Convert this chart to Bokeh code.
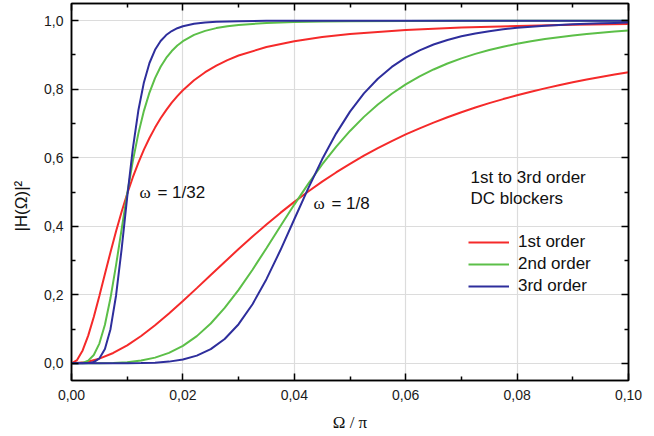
import numpy as np
from bokeh.plotting import figure
from bokeh.models import (Range1d, FixedTicker, LinearAxis, Legend, LegendItem, Label,
                          CustomLabelingPolicy)
from bokeh.embed import file_html
from bokeh.resources import INLINE

# ---------------- data ----------------
# omega = 1/32 curves
x_32 = [0, 0.001, 0.002, 0.003, 0.004, 0.005, 0.006, 0.007, 0.008, 0.009, 0.010,
        0.011, 0.012, 0.013, 0.014, 0.015, 0.016, 0.017, 0.018, 0.019, 0.020,
        0.022, 0.024, 0.026, 0.028, 0.030, 0.035, 0.040, 0.045, 0.050,
        0.060, 0.070, 0.080, 0.090, 0.100]
first_32 = [0, 0.0097, 0.0377, 0.0810, 0.1355, 0.1967, 0.2607, 0.3243, 0.3853, 0.4424, 0.4948,
            0.5424, 0.5852, 0.6235, 0.6575, 0.6879, 0.7150, 0.7390, 0.7605, 0.7796, 0.7967,
            0.8259, 0.8495, 0.8689, 0.8849, 0.8982, 0.9232, 0.9401, 0.9521, 0.9609,
            0.9726, 0.9797, 0.9845, 0.9877, 0.9900]
second_32 = [0, 0.0001, 0.0016, 0.0079, 0.0245, 0.0577, 0.1127, 0.1905, 0.2865, 0.3914, 0.4950,
             0.5894, 0.6703, 0.7368, 0.7902, 0.8323, 0.8653, 0.8912, 0.9114, 0.9274, 0.9401,
             0.9583, 0.9702, 0.9782, 0.9837, 0.9876, 0.9932, 0.9960, 0.9975, 0.9984,
             0.9992, 0.9996, 0.9998, 0.9998, 0.9999]
third_32 = [0, 0.0000, 0.0001, 0.0007, 0.0038, 0.0145, 0.0421, 0.0998, 0.1981, 0.3336, 0.4851,
            0.6251, 0.7377, 0.8197, 0.8764, 0.9148, 0.9405, 0.9579, 0.9697, 0.9779, 0.9837,
            0.9907, 0.9945, 0.9966, 0.9978, 0.9985, 0.9994, 0.9997, 0.9999, 0.9999,
            1.0, 1.0, 1.0, 1.0, 1.0]

# omega = 1/8 curves
x_8 = [0, 0.0025, 0.005, 0.0075, 0.010, 0.0125, 0.015, 0.0175, 0.020, 0.0225, 0.025,
       0.0275, 0.030, 0.0325, 0.035, 0.0375, 0.040, 0.0425, 0.045, 0.0475, 0.050,
       0.0525, 0.055, 0.0575, 0.060, 0.0625, 0.065, 0.0675, 0.070, 0.0725, 0.075,
       0.0775, 0.080, 0.0825, 0.085, 0.0875, 0.090, 0.0925, 0.095, 0.0975, 0.100]
first_8 = [0, 0.0035, 0.0137, 0.0303, 0.0526, 0.0798, 0.1111, 0.1454, 0.1818, 0.2195, 0.2578,
           0.2960, 0.3335, 0.3701, 0.4053, 0.4390, 0.4711, 0.5015, 0.5301, 0.5570, 0.5822,
           0.6059, 0.6280, 0.6486, 0.6679, 0.6858, 0.7026, 0.7182, 0.7328, 0.7464, 0.7592,
           0.7711, 0.7822, 0.7926, 0.8024, 0.8115, 0.8201, 0.8281, 0.8357, 0.8428, 0.8495]
second_8 = [0, 0.0000, 0.0002, 0.0011, 0.0034, 0.0082, 0.0168, 0.0307, 0.0512, 0.0795, 0.1164,
            0.1617, 0.2145, 0.2733, 0.3359, 0.4000, 0.4633, 0.5238, 0.5803, 0.6318, 0.6782,
            0.7192, 0.7552, 0.7866, 0.8138, 0.8372, 0.8575, 0.8750, 0.8900, 0.9030, 0.9143,
            0.9240, 0.9325, 0.9398, 0.9462, 0.9518, 0.9567, 0.9611, 0.9649, 0.9682, 0.9712]
third_8 = [0, 0.0000, 0.0000, 0.0000, 0.0002, 0.0007, 0.0020, 0.0051, 0.0112, 0.0225, 0.0414,
           0.0711, 0.1143, 0.1726, 0.2456, 0.3299, 0.4204, 0.5106, 0.5953, 0.6704, 0.7345,
           0.7876, 0.8305, 0.8649, 0.8920, 0.9134, 0.9303, 0.9437, 0.9542, 0.9626, 0.9693,
           0.9746, 0.9789, 0.9824, 0.9853, 0.9876, 0.9895, 0.9910, 0.9924, 0.9934, 0.9944]

series_names = ["1st order", "2nd order", "3rd order"]
series_colors = ["#f52a2a", "#5cbf48", "#2e2e9c"]

x_ticks = [0.0, 0.02, 0.04, 0.06, 0.08, 0.10]
x_tick_labels = ["0,00", "0,02", "0,04", "0,06", "0,08", "0,10"]
x_minor = [0.01, 0.03, 0.05, 0.07, 0.09]
y_ticks = [0.0, 0.2, 0.4, 0.6, 0.8, 1.0]
y_tick_labels = ["0,0", "0,2", "0,4", "0,6", "0,8", "1,0"]
y_minor = [0.1, 0.3, 0.5, 0.7, 0.9]

legend_title = ["1st to 3rd order", "DC blockers"]
omega_notes = [("= 1/32", 0.01221, 0.4985), ("= 1/8", 0.04345, 0.4665)]

# ---------------- figure ----------------
SANS = "Liberation Sans"
SERIF = "Liberation Serif"

p = figure(width=654, height=436, x_range=Range1d(0, 0.1), y_range=Range1d(-0.05, 1.05),
           output_backend="svg", toolbar_location=None,
           min_border_left=71, min_border_right=26, min_border_top=3, min_border_bottom=56)
p.background_fill_color = "white"
p.border_fill_color = "white"
p.outline_line_color = "black"
p.outline_line_width = 1.5

xt = FixedTicker(ticks=x_ticks, minor_ticks=x_minor)
yt = FixedTicker(ticks=y_ticks, minor_ticks=y_minor)

def style_axis(ax, labels=True):
    ax.axis_line_color = "black"
    ax.axis_line_width = 1.5
    ax.major_tick_in = 7
    ax.major_tick_out = 0
    ax.minor_tick_in = 4
    ax.minor_tick_out = 0
    ax.major_tick_line_color = "black"
    ax.minor_tick_line_color = "black"
    ax.major_tick_line_width = 1.5
    ax.minor_tick_line_width = 1.5
    if labels:
        ax.major_label_text_font = SANS
        ax.major_label_text_font_size = "14px"
        ax.major_label_text_color = "#1a1a1a"
    else:
        ax.major_label_text_font_size = "0px"
        ax.major_label_standoff = 0
        ax.major_label_policy = CustomLabelingPolicy(code="return new Set()")

xa = p.xaxis[0]
xa.ticker = xt
xa.major_label_overrides = dict(zip(x_ticks, x_tick_labels))
style_axis(xa)
xa.major_label_standoff = 9
xa.axis_label = "Ω / π"
xa.axis_label_text_font = SERIF
xa.axis_label_text_font_style = "normal"
xa.axis_label_text_font_size = "17px"
xa.axis_label_text_color = "#111111"
xa.axis_label_standoff = 10

ya = p.yaxis[0]
ya.ticker = yt
ya.major_label_overrides = dict(zip(y_ticks, y_tick_labels))
style_axis(ya)
ya.major_label_standoff = 8
# trailing no-break spaces move the rotated title's centre downwards, as in the reference
ya.axis_label = "|H(Ω)|²" + "\u00a0" * 6
ya.axis_label_text_font = SANS
ya.axis_label_text_font_style = "normal"
ya.axis_label_text_font_size = "17px"
ya.axis_label_text_color = "#111111"
ya.axis_label_standoff = 10

top_ax = LinearAxis(ticker=xt)
style_axis(top_ax, labels=False)
p.add_layout(top_ax, "above")
right_ax = LinearAxis(ticker=yt)
style_axis(right_ax, labels=False)
p.add_layout(right_ax, "right")

p.xgrid.ticker = xt
p.ygrid.ticker = yt
for g in (p.xgrid[0], p.ygrid[0]):
    g.grid_line_color = "#dcdcdc"
    g.grid_line_width = 1.2

# ---------------- curves ----------------
set_32 = [first_32, second_32, third_32]
set_8 = [first_8, second_8, third_8]
legend_renderers = []
for ys32, ys8, col in zip(set_32, set_8, series_colors):
    r = p.line(x_32, ys32, line_color=col, line_width=2)
    p.line(x_8, ys8, line_color=col, line_width=2)
    legend_renderers.append(r)

legend = Legend(items=[LegendItem(label=n, renderers=[r]) for n, r in zip(series_names, legend_renderers)],
                location=(397, 84), orientation="vertical",
                background_fill_alpha=0, border_line_alpha=0, padding=0, margin=0,
                spacing=2, glyph_width=41, glyph_height=18, label_height=18, label_standoff=9,
                label_text_font=SANS, label_text_font_size="17px", label_text_color="#111111")
p.add_layout(legend)

# legend title lines
for txt, yv in zip(legend_title, [0.5423, 0.4810]):
    p.add_layout(Label(x=0.07163, y=yv, text=txt, text_font=SANS, text_font_size="17px",
                       text_baseline="middle", text_align="left", text_color="#111111"))

# omega annotations
for rest, xv, yv in omega_notes:
    p.add_layout(Label(x=xv, y=yv, text="ω", text_font=SERIF, text_font_size="17px",
                       text_baseline="middle", text_align="left", text_color="#111111"))
    p.add_layout(Label(x=xv + 0.00322, y=yv, text=rest, text_font=SANS, text_font_size="17px",
                       text_baseline="middle", text_align="left", text_color="#111111"))

open("out.html", "w").write(file_html(p, INLINE))
